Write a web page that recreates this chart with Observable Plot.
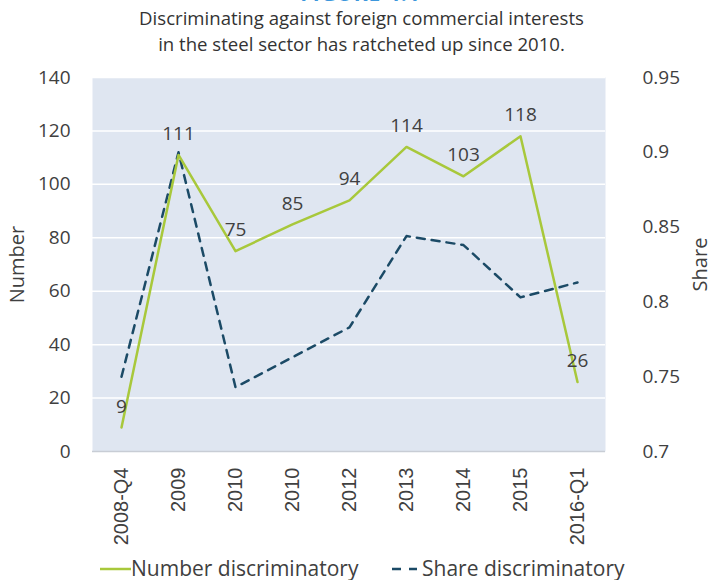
<!DOCTYPE html>
<html><head><meta charset="utf-8">
<script src="https://cdn.jsdelivr.net/npm/d3@7"></script>
<script src="https://cdn.jsdelivr.net/npm/@observablehq/plot@0.6"></script>
<style>
body{margin:0;background:#fff;font-family:"Open Sans",sans-serif;color:#404040;}
#wrap{position:relative;width:713px;height:580px;overflow:hidden;}
#fig{position:absolute;left:4px;width:713px;top:-21px;text-align:center;font-weight:bold;font-size:21px;color:#3d97dc;letter-spacing:1px;}
#sub{position:absolute;left:5px;width:713px;top:5px;text-align:center;font-size:18.6px;line-height:26px;color:#333;}
#chart{position:absolute;left:0;top:62px;}
#legend{position:absolute;left:0;top:549px;}
</style>
</head><body>
<div id="wrap">
<div id="fig">FIGURE 4.1</div>
<div id="sub">Discriminating against foreign commercial interests<br>in the steel sector has ratcheted up since 2010.</div>
<div id="chart"></div>
<svg id="legend" width="713" height="31"></svg>
</div>
<script>
const categories = ["2008-Q4","2009","2010","2010","2012","2013","2014","2015","2016-Q1"];
const numberValues = [9,111,75,85,94,114,103,118,26];
const shareValues = [0.750,0.900,0.743,0.763,0.783,0.844,0.838,0.803,0.813];
const numberTicks = [0,20,40,60,80,100,120,140];
const shareTicks = [0.7,0.75,0.8,0.85,0.9,0.95];
const seriesNames = ["Number discriminatory","Share discriminatory"];
const axisTitles = ["Number","Share"];

const shareMin = 0.7, shareMax = 0.95, numMax = 140;
const shareToNum = s => (s - shareMin) / (shareMax - shareMin) * numMax;
const numToShare = n => shareMin + n / numMax * (shareMax - shareMin);

const idx = d3.range(categories.length);
const numData = idx.map(i => ({i, v: numberValues[i]}));
const shareData = idx.map(i => ({i, v: shareToNum(shareValues[i])}));

const green = "#a8c83b", dark = "#1b4a66";

const chart = Plot.plot({
  width: 713, height: 490,
  marginTop: 15, marginBottom: 101, marginLeft: 92, marginRight: 108,
  style: {fontFamily: "Open Sans", fontSize: "18px", color: "#404040", background: "transparent", overflow: "visible"},
  x: {type: "point", domain: idx, padding: 0.5},
  y: {domain: [0, numMax]},
  marks: [
    Plot.frame({fill: "#dfe6f1", stroke: "none"}),
    Plot.gridY(numberTicks.slice(1), {stroke: "#ffffff", strokeOpacity: 1, strokeWidth: 1.5}),
    Plot.ruleY([0], {stroke: "#c8cdd5", strokeWidth: 1.5}),
    Plot.axisY(numberTicks, {anchor: "left", tickSize: 0, tickPadding: 22, label: null, fontSize: 19}),
    Plot.axisY(shareTicks.map(shareToNum), {anchor: "right", tickSize: 0, tickPadding: 37, tickFormat: d => String(+numToShare(d).toFixed(2)), label: null, fontSize: 19}),
    Plot.axisX({tickRotate: -90, tickSize: 0, tickPadding: 16, tickFormat: i => categories[i], fontFamily: "Liberation Sans", fontSize: 20, label: null}),
    Plot.text([axisTitles[0]], {frameAnchor: "left", dx: -75, rotate: -90, fontSize: 20, fill: "#404040", textAnchor: "middle", lineAnchor: "middle"}),
    Plot.text([axisTitles[1]], {frameAnchor: "right", dx: 95, rotate: -90, fontSize: 20, fill: "#404040", textAnchor: "middle", lineAnchor: "middle"}),
    Plot.line(shareData, {x: "i", y: "v", stroke: dark, strokeWidth: 2.5, strokeDasharray: "8,7"}),
    Plot.line(numData, {x: "i", y: "v", stroke: green, strokeWidth: 2.5}),
    Plot.text(numData, {x: "i", y: "v", text: d => String(d.v), dy: -21, fontSize: 19, fill: "#404040"})
  ]
});
document.getElementById("chart").appendChild(chart);

const lg = d3.select("#legend");
lg.append("line").attr("x1", 100).attr("x2", 131).attr("y1", 20).attr("y2", 20).attr("stroke", green).attr("stroke-width", 2.5);
lg.append("text").attr("x", 131).attr("y", 27).attr("font-family", "Open Sans").attr("font-size", 21).attr("fill", "#404040").text(seriesNames[0]);
lg.append("line").attr("x1", 392).attr("x2", 417).attr("y1", 20).attr("y2", 20).attr("stroke", dark).attr("stroke-width", 2.5).attr("stroke-dasharray", "9,8");
lg.append("text").attr("x", 422).attr("y", 27).attr("font-family", "Open Sans").attr("font-size", 21).attr("fill", "#404040").text(seriesNames[1]);
</script>
</body></html>
